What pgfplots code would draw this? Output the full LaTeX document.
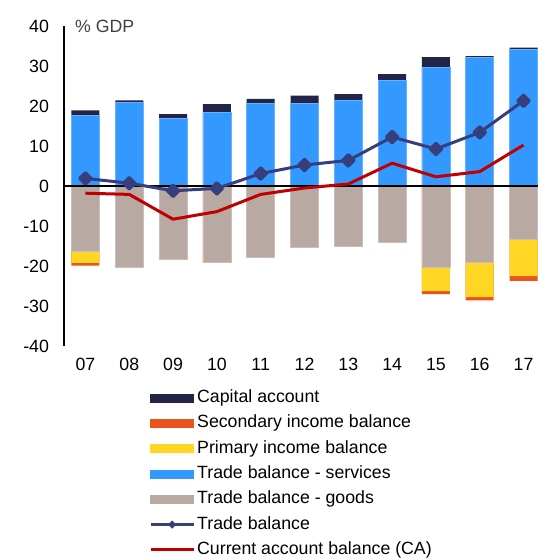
\documentclass[border=0pt]{standalone}
\usepackage{pgfplots}
\usepackage{pgfplotstable}
\pgfplotsset{compat=1.18}
\usepackage{fontspec}
\setmainfont{Liberation Sans}
\definecolor{capcol}{RGB}{34,36,72}
\definecolor{seccol}{RGB}{232,84,28}
\definecolor{pricol}{RGB}{255,214,36}
\definecolor{sercol}{RGB}{51,153,255}
\definecolor{goocol}{RGB}{184,169,162}
\definecolor{tbcol}{RGB}{54,62,124}
\definecolor{cacol}{RGB}{192,0,0}
\definecolor{labcol}{RGB}{64,64,64}
% cumulative bar ends
% captop = services + capital account; secbot = goods + primary + secondary; pribot = goods + primary
\pgfplotstableread{
x services captop goods pribot secbot tb ca
0 17.7 18.9 -16.25 -19.2 -19.9 1.9 -1.8
1 21.0 21.4 -20.4 -20.4 -20.4 0.7 -2.1
2 16.8 18.0 -18.3 -18.3 -18.3 -1.2 -8.3
3 18.5 20.5 -19.2 -19.2 -19.2 -0.6 -6.4
4 20.6 21.8 -17.9 -17.9 -17.9 3.1 -2.1
5 20.6 22.6 -15.4 -15.4 -15.4 5.25 -0.5
6 21.3 23.0 -15.0 -15.0 -15.0 6.4 0.5
7 26.3 28.0 -14.2 -14.2 -14.2 12.25 5.7
8 29.7 32.2 -20.3 -26.25 -27.0 9.25 2.3
9 32.2 32.5 -19.1 -27.8 -28.6 13.4 3.6
10 34.25 34.6 -13.25 -22.5 -23.7 21.3 10.25
}\datatable
\begin{document}
\fontsize{17.8}{21}\selectfont
\begin{tikzpicture}
\path[use as bounding box] (0,0) rectangle (538bp,559bp);
\begin{axis}[
  at={(64bp,213bp)}, anchor=south west,
  scale only axis, width=474bp, height=320bp,
  xmin=-0.49, xmax=10.33, ymin=-40, ymax=40,
  clip=false,
  axis lines*=left,
  x axis line style={draw=none},
  y axis line style={black, line width=1.5bp},
  major tick length=0pt,
  xtick={0,...,10},
  xticklabels={07,08,09,10,11,12,13,14,15,16,17},
  ytick={-40,-30,-20,-10,0,10,20,30,40},
  yticklabels={-40,-30,-20,-10,0,10,20,30,40},
  yticklabel style={xshift=-9bp},
  xticklabel style={yshift=-6bp},
  legend style={at={(axis description cs:0.1793,-0.137)}, anchor=north west,
    draw=none, fill=none, inner sep=0pt, row sep=9.3bp,
    nodes={inner sep=0pt, text height=12.5bp, text depth=3.5bp, anchor=west},
    /tikz/every odd column/.append style={column sep=2bp}},
  legend cell align=left,
]
\addplot[ybar, bar shift=0pt, bar width=28bp, fill=capcol, draw=none, forget plot] table[x=x,y=captop]{\datatable};
\addplot[ybar, bar shift=0pt, bar width=28bp, fill=sercol, draw=sercol!75!white, line width=0.7bp, forget plot] table[x=x,y=services]{\datatable};
\addplot[ybar, bar shift=0pt, bar width=28bp, fill=seccol, draw=none, forget plot] table[x=x,y=secbot]{\datatable};
\addplot[ybar, bar shift=0pt, bar width=28bp, fill=pricol, draw=none, forget plot] table[x=x,y=pribot]{\datatable};
\addplot[ybar, bar shift=0pt, bar width=28bp, fill=goocol, draw=goocol!75!white, line width=0.7bp, forget plot] table[x=x,y=goods]{\datatable};
\addplot[sharp plot, black, line width=1.5bp, forget plot] coordinates {(-0.49,0) (10.33,0)};
\addplot[sharp plot, tbcol, line width=3bp, line join=round, mark=square*, mark size=4.1bp, mark options={rotate=45, solid, fill=tbcol}, forget plot] table[x=x,y=tb]{\datatable};
\addplot[sharp plot, cacol, line width=3bp, line join=round, no markers, forget plot] table[x=x,y=ca]{\datatable};
\addlegendimage{legend image code/.code={\fill[capcol] (0bp,-4bp) rectangle (43bp,4bp);}}
\addlegendentry{Capital account}
\addlegendimage{legend image code/.code={\fill[seccol] (0bp,-4bp) rectangle (43bp,4bp);}}
\addlegendentry{Secondary income balance}
\addlegendimage{legend image code/.code={\fill[pricol] (0bp,-4bp) rectangle (43bp,4bp);}}
\addlegendentry{Primary income balance}
\addlegendimage{legend image code/.code={\fill[sercol] (0bp,-4bp) rectangle (43bp,4bp);}}
\addlegendentry{Trade balance - services}
\addlegendimage{legend image code/.code={\fill[goocol] (0bp,-4bp) rectangle (43bp,4bp);}}
\addlegendentry{Trade balance - goods}
\addlegendimage{legend image code/.code={\draw[tbcol, line width=3bp] (0bp,0bp) -- (43bp,0bp); \draw[tbcol, line width=3bp, mark=square*, mark size=2.6bp, mark options={rotate=45, fill=tbcol, line width=0.5bp}] plot coordinates {(21.5bp,0bp)};}}
\addlegendentry{Trade balance}
\addlegendimage{legend image code/.code={\draw[cacol, line width=3bp] (0bp,0bp) -- (43bp,0bp);}}
\addlegendentry{Current account balance (CA)}
\node[anchor=west, inner sep=0pt, text=labcol] at (rel axis cs:0,1) [xshift=11bp] {\% GDP};
\end{axis}
\end{tikzpicture}
\end{document}
